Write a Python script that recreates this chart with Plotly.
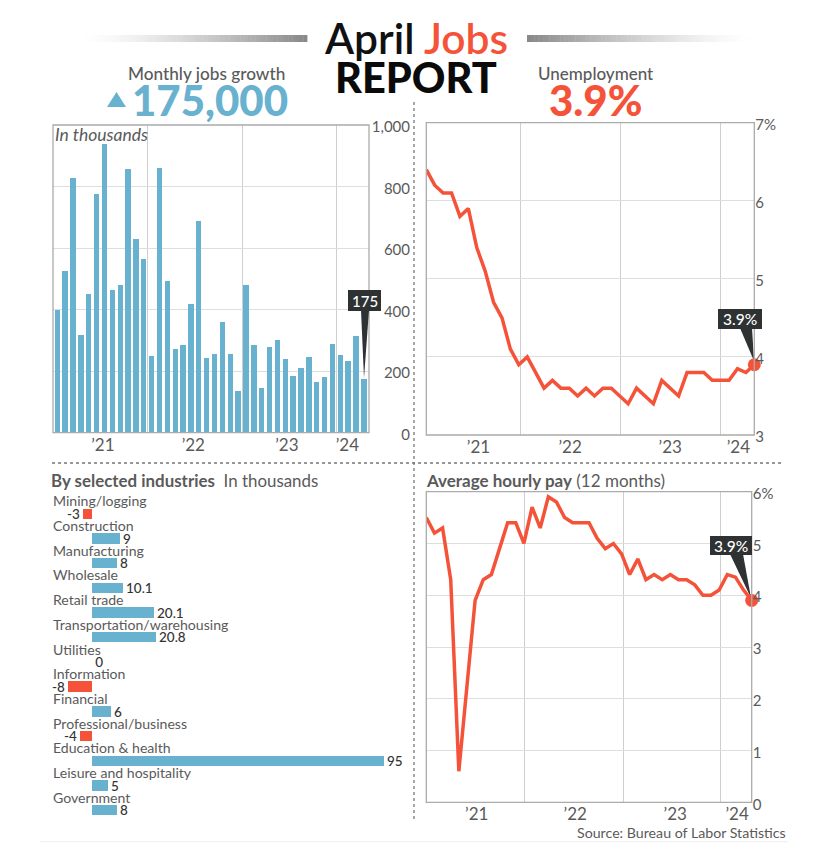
import plotly.graph_objects as go

W, H = 828, 858
BLUE = "#68B1CF"
RED = "#F4533A"
DARK = "#2E3233"
GREY = "#5A5A5A"
FONT = "Lato"

# ---------- data ----------
jobs = [399, 525, 829, 318, 451, 777, 937, 464, 479, 858, 631, 565, 250, 860, 493, 271, 285, 419, 689, 242,
        255, 361, 257, 135, 481, 286, 145, 277, 302, 239, 183, 209, 245, 165, 181, 288, 253, 234, 313, 175]
unemployment = [6.4, 6.2, 6.1, 6.1, 5.8, 5.9, 5.4, 5.1, 4.7, 4.5, 4.1, 3.9, 4.0, 3.8, 3.6, 3.7, 3.6, 3.6, 3.5, 3.6,
                3.5, 3.6, 3.6, 3.5, 3.4, 3.6, 3.5, 3.4, 3.7, 3.6, 3.5, 3.8, 3.8, 3.8, 3.7, 3.7, 3.7, 3.85, 3.8, 3.9]
pay = [5.5, 5.2, 5.3, 4.3, 0.6, 2.2, 3.9, 4.3, 4.4, 4.9, 5.4, 5.4, 5.0, 5.7, 5.3, 5.9, 5.8, 5.5, 5.4, 5.4, 5.4,
       5.1, 4.9, 5.0, 4.8, 4.4, 4.7, 4.3, 4.4, 4.3, 4.4, 4.3, 4.3, 4.2, 4.0, 4.0, 4.1, 4.4, 4.35, 4.1, 3.9]
industries = ["Mining/logging", "Construction", "Manufacturing", "Wholesale", "Retail trade",
              "Transportation/warehousing", "Utilities", "Information", "Financial",
              "Professional/business", "Education & health", "Leisure and hospitality", "Government"]
industry_values = [-3, 9, 8, 10.1, 20.1, 20.8, 0, -8, 6, -4, 95, 5, 8]
year_labels = ["’21", "’22", "’23", "’24"]


def fx(px):
    return px / W


def fy(py):
    return 1 - py / H


fig = go.Figure()

# ---------- panel 1: monthly jobs ----------
fig.add_trace(go.Bar(x=list(range(len(jobs))), y=jobs, marker=dict(color=BLUE, line_width=0), width=0.68,
                     xaxis="x", yaxis="y", showlegend=False))
# ---------- panel 2: unemployment ----------
fig.add_trace(go.Scatter(x=list(range(len(unemployment))), y=unemployment, mode="lines",
                         line=dict(color=RED, width=3.5), xaxis="x2", yaxis="y2", showlegend=False))
fig.add_trace(go.Scatter(x=[len(unemployment) - 1], y=[unemployment[-1]], mode="markers",
                         marker=dict(color=RED, size=13), cliponaxis=False, xaxis="x2", yaxis="y2", showlegend=False))
# ---------- panel 3: hourly pay ----------
fig.add_trace(go.Scatter(x=list(range(len(pay))), y=pay, mode="lines",
                         line=dict(color=RED, width=3.5), xaxis="x3", yaxis="y3", showlegend=False))
fig.add_trace(go.Scatter(x=[len(pay) - 1], y=[pay[-1]], mode="markers",
                         marker=dict(color=RED, size=13), cliponaxis=False, xaxis="x3", yaxis="y3", showlegend=False))
# ---------- panel 4: industries ----------
fig.add_trace(go.Bar(y=list(range(len(industries))), x=industry_values, orientation="h", width=0.42,
                     marker=dict(color=[BLUE if v >= 0 else RED for v in industry_values], line_width=0),
                     text=[str(v) for v in industry_values], textposition="outside", cliponaxis=False,
                     constraintext="none",
                     textfont=dict(family=FONT, size=13.5, color="#333333", weight=500),
                     xaxis="x4", yaxis="y4", showlegend=False))

# plot rectangles in pixels
P1 = (53, 369, 125, 432.7)
P2 = (426.3, 754.3, 122.7, 435)
P3 = (426.3, 751.7, 491.7, 802.3)
P4 = (52, 400, 495, 825)


def xdom(p):
    return [fx(p[0]), fx(p[1])]


def ydom(p):
    return [fy(p[3]), fy(p[2])]


GRID = "#DEDEDE"
VGRID = "#CFCFCF"
tickfont = dict(family=FONT, size=15, color=GREY)


def xaxis(p, rng, centres, bounds, anchor):
    return dict(domain=xdom(p), range=rng, anchor=anchor, tickmode="array", tickvals=centres, ticktext=year_labels,
                showgrid=False, zeroline=False, ticks="", ticklen=0,
                tickfont=dict(family=FONT, size=17, color=GREY),
                minor=dict(tickmode="array", tickvals=bounds, showgrid=True, gridcolor=VGRID, gridwidth=1, ticks=""))


def yaxis(p, rng, vals, labels, anchor):
    return dict(domain=ydom(p), range=rng, anchor=anchor, side="right", tickmode="array", tickvals=vals,
                ticktext=labels, showgrid=True, gridcolor=GRID, gridwidth=1.2, zeroline=False,
                ticks="", tickfont=tickfont, ticklabelshift=2)


layout = dict(
    width=W, height=H, margin=dict(l=0, r=0, t=0, b=0, autoexpand=False),
    paper_bgcolor="white", plot_bgcolor="white", bargap=0, font=dict(family=FONT, color=GREY),
    xaxis=xaxis(P1, [-0.547, 39.65], [5.8, 17.3, 29.2, 36.9], [11.5, 23.5, 35.5], "y"),
    yaxis=yaxis(P1, [0, 1000], [0, 200, 400, 600, 800, 1000], ["0", "200", "400", "600", "800", "1,000"], "x"),
    xaxis2=xaxis(P2, [0, 39], [6.2, 17.1, 29, 37.1], [11.15, 23.1, 35], "y2"),
    yaxis2=yaxis(P2, [3, 7], [3, 4, 5, 6, 7], ["3", "4", "5", "6", "7%"], "x2"),
    xaxis3=xaxis(P3, [0, 40], [6.2, 18.3, 30.6, 38.2], [12.1, 24.2, 36.2], "y3"),
    yaxis3=yaxis(P3, [0, 6], [0, 1, 2, 3, 4, 5, 6], ["0", "1", "2", "3", "4", "5", "6%"], "x3"),
    xaxis4=dict(domain=xdom(P4), range=[-13.1, 100.1], anchor="y4", visible=False),
    yaxis4=dict(domain=ydom(P4), range=[12.6, -0.757], anchor="x4", visible=False),
)
# right-aligned tick labels for the jobs panel
layout["yaxis"].update(side="left", anchor="free", position=fx(410))
fig.update_layout(**layout)

shapes = []
# panel frames
for p in (P1, P2, P3):
    shapes.append(dict(type="rect", xref="paper", yref="paper", x0=fx(p[0]), x1=fx(p[1]), y0=fy(p[3]), y1=fy(p[2]),
                       line=dict(color="#ABABAB", width=1.3), fillcolor="rgba(0,0,0,0)", layer="above"))
# dotted dividers
for a, b, c, d in ((414, 102, 414, 822), (52, 463, 782, 463)):
    shapes.append(dict(type="line", xref="paper", yref="paper", x0=fx(a), y0=fy(b), x1=fx(c), y1=fy(d),
                       line=dict(color="#777777", width=1.3, dash="dot")))
# faint footer rule
shapes.append(dict(type="line", xref="paper", yref="paper", x0=fx(40), y0=fy(841.7), x1=fx(788), y1=fy(841.7),
                   line=dict(color="#EFEFEF", width=1)))


# title rules with a fade
def fade(x_start, x_end, fade_left):
    n = 60
    step = (x_end - x_start) / n
    for i in range(n):
        t = (i + 0.5) / n
        k = t if fade_left else 1 - t
        k = k ** 1.4
        v = int(255 - (255 - 136) * k)
        shapes.append(dict(type="rect", xref="paper", yref="paper", x0=fx(x_start + i * step),
                           x1=fx(x_start + (i + 1) * step + 0.4), y0=fy(42), y1=fy(35),
                           fillcolor=f"rgb({v},{v},{v})", line_width=0))


fade(85, 307, True)
fade(527, 750, False)
# triangle beside the big number
shapes.append(dict(type="path", xref="paper", yref="paper",
                   path=f"M {fx(107)} {fy(107)} L {fx(126)} {fy(107)} L {fx(116.5)} {fy(92)} Z",
                   fillcolor=BLUE, line_width=0))


def callout(p, xr, yr, axx, axy, box, base, tip, layer):
    def dx(px):
        return xr[0] + (px - p[0]) / (p[1] - p[0]) * (xr[1] - xr[0])

    def dy(py):
        return yr[0] + (p[3] - py) / (p[3] - p[2]) * (yr[1] - yr[0])

    l, t, r, b = box
    # label box in page space so it may pass the plot edge, pointer under the end marker
    shapes.append(dict(type="rect", xref="paper", yref="paper", x0=fx(l), x1=fx(r), y0=fy(b), y1=fy(t),
                       fillcolor=DARK, line_width=0, layer="above"))
    shapes.append(dict(type="path", xref=axx, yref=axy, layer=layer, fillcolor=DARK, line_width=0,
                       path=f"M {dx(base[0])} {dy(b - 1)} L {dx(base[1])} {dy(b - 1)} L {dx(tip[0])} {dy(tip[1])} Z"))


callout(P1, [-0.547, 39.65], [0, 1000], "x", "y", (348, 290, 381, 311), (361, 369), (364, 378), "above")
callout(P2, [0, 39], [3, 7], "x2", "y2", (718, 309, 762, 329), (740, 752), (754, 361), "between")
callout(P3, [0, 40], [0, 6], "x3", "y3", (710, 536, 752, 555), (730, 743), (751, 598), "between")
fig.update_layout(shapes=shapes)


def note(text, x, y, size, color=GREY, anchor="left", family=FONT, weight=None, style=None):
    font = dict(family=family, size=size, color=color)
    if weight:
        font["weight"] = weight
    if style:
        font["style"] = style
    fig.add_annotation(text=text, x=fx(x), y=fy(y), xref="paper", yref="paper", xanchor=anchor, yanchor="middle",
                       showarrow=False, font=font, borderpad=0, borderwidth=0)


note(f'April <span style="color:{RED}">Jobs</span>', 416, 37, 42.5, "#111111", "center", weight=600)
note("REPORT", 416, 77, 41.5, "#0A0A0A", "center", weight=900)
note("Monthly jobs growth", 206.5, 73, 17.2, GREY, "center", weight=500)
note("175,000", 210, 100, 42, BLUE, "center", weight=900)
note("Unemployment", 595.5, 73, 17, GREY, "center", weight=500)
note("3.9%", 595.5, 100, 42, RED, "center", weight=900)
note("In thousands", 54.5, 135, 17.5, GREY, style="italic")
note("<b>By selected industries</b>  In thousands", 50.5, 480, 16.9)
note("<b>Average hourly pay</b> (12 months)", 425.5, 480, 17)
note("Source: Bureau of Labor Statistics", 786, 832, 14.2, GREY, "right")
note("175", 364.5, 301, 15, "white", "center", weight=500)
note("3.9%", 740, 319, 15.5, "white", "center", weight=500)
note("3.9%", 731, 546, 15.5, "white", "center", weight=500)

# industry names sit just above their bars
for i, name in enumerate(industries):
    fig.add_annotation(text=name, x=fx(50.5), y=i - 0.52, xref="paper", yref="y4", xanchor="left", yanchor="middle",
                       showarrow=False, font=dict(family=FONT, size=14.1, color=GREY))

fig.write_html("out.html", post_script="document.body.style.margin='0';document.body.style.overflow='hidden';",
               config={"displayModeBar": False})
